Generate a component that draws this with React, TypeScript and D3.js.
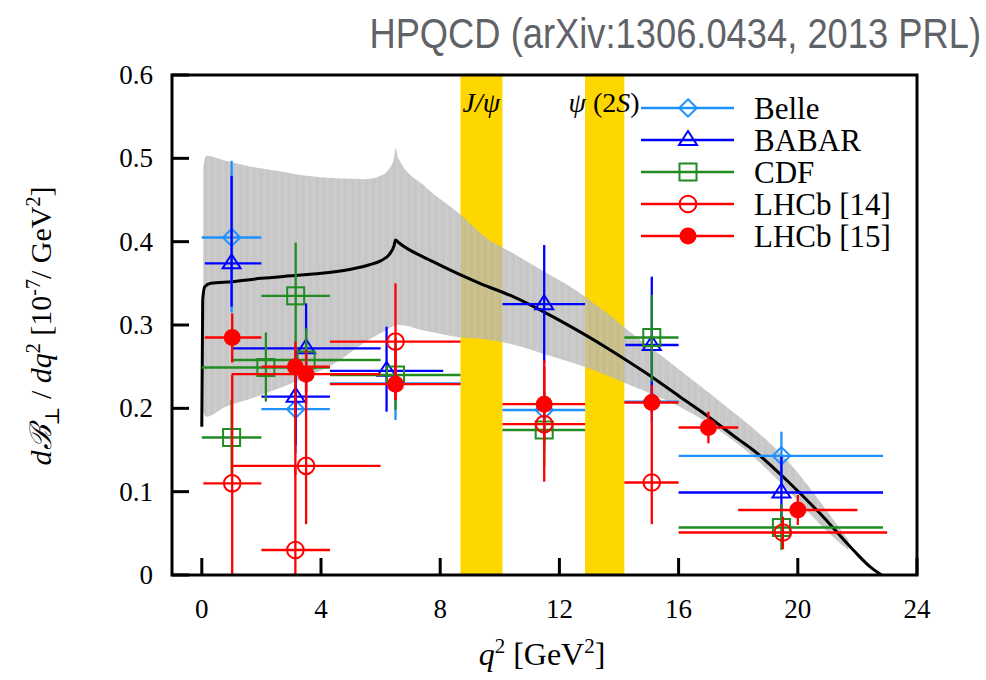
import React from 'react';
import * as d3 from 'd3';

// ---- data ----
// rows: [q2, value, q2 low, q2 high, value low, value high]
const belle = [
  [1.0, 0.405, 0, 2, 0.315, 0.497],
  [3.15, 0.199, 2, 4.3, 0.146, 0.255],
  [6.5, 0.23, 4.3, 8.68, 0.186, 0.275],
  [11.49, 0.198, 10.09, 12.86, 0.15, 0.25],
  [15.1, 0.208, 14.18, 16, 0.183, 0.235],
  [19.45, 0.143, 16, 22.86, 0.11, 0.172],
];
const babar = [
  [1.0, 0.374, 0.1, 2, 0.322, 0.479],
  [3.15, 0.214, 2, 4.3, 0.156, 0.27],
  [3.5, 0.272, 1, 6, 0.22, 0.326],
  [6.2, 0.245, 4.3, 8.1, 0.196, 0.298],
  [11.49, 0.325, 10.09, 12.86, 0.254, 0.396],
  [15.1, 0.276, 14.21, 16, 0.195, 0.358],
  [19.45, 0.099, 16, 22.86, 0.066, 0.142],
];
const cdf = [
  [1.0, 0.165, 0, 2, 0.12, 0.21],
  [3.15, 0.335, 2, 4.3, 0.27, 0.399],
  [2.15, 0.249, 0, 4.3, 0.208, 0.291],
  [3.5, 0.258, 1, 6, 0.22, 0.296],
  [6.5, 0.24, 4.3, 8.68, 0.198, 0.285],
  [11.49, 0.174, 10.09, 12.86, 0.13, 0.22],
  [15.1, 0.285, 14.18, 16, 0.232, 0.336],
  [19.45, 0.057, 16, 22.86, 0.03, 0.085],
];
const lhcb14 = [
  [1.02, 0.11, 0.05, 2, 0.0, 0.24],
  [3.14, 0.03, 2, 4.3, 0.0, 0.13],
  [3.5, 0.131, 1, 6, 0.061, 0.23],
  [6.5, 0.28, 4.3, 8.68, 0.21, 0.35],
  [11.49, 0.181, 10.09, 12.86, 0.112, 0.25],
  [15.1, 0.111, 14.18, 16, 0.061, 0.18],
  [19.5, 0.051, 16, 23, 0.031, 0.07],
];
const lhcb15 = [
  [1.02, 0.285, 0.1, 2, 0.255, 0.314],
  [3.14, 0.25, 2, 4.3, 0.12, 0.28],
  [3.5, 0.241, 1, 6, 0.205, 0.27],
  [6.5, 0.229, 4.3, 8.68, 0.21, 0.27],
  [11.49, 0.205, 10.09, 12.86, 0.16, 0.258],
  [15.1, 0.207, 14.18, 16, 0.18, 0.228],
  [17.0, 0.177, 16, 18, 0.158, 0.196],
  [20.0, 0.078, 18, 22, 0.06, 0.096],
];

// lattice prediction: central curve and error band
const curveQ2 = [0, 0.03, 0.1, 0.3, 1, 2, 3, 4, 5, 5.6, 6.0, 6.3, 6.45, 6.5, 6.6, 7.76, 9.33, 10.45, 11.57, 12.68, 13.8, 14.92, 16.04, 17.0, 18.0, 18.5, 19.62, 20.74, 21.86, 22.42, 22.81];
const curveVal = [0.178, 0.33, 0.346, 0.35, 0.352, 0.356, 0.359, 0.362, 0.367, 0.372, 0.377, 0.385, 0.395, 0.402, 0.399, 0.376, 0.35, 0.334, 0.314, 0.292, 0.268, 0.242, 0.214, 0.19, 0.163, 0.15, 0.114, 0.074, 0.03, 0.01, 0.0];
const bandQ2 = [0.05, 0.15, 0.8, 1.5, 2.5, 3.5, 4.5, 5.5, 6.0, 6.3, 6.45, 6.5, 6.6, 7.5, 8.7, 9.5, 10.5, 11.5, 12.5, 13.5, 14.5, 15.5, 16.5, 17.5, 18.5, 19.5, 20.5, 21.2, 21.7];
const bandHi = [0.49, 0.503, 0.497, 0.491, 0.485, 0.479, 0.476, 0.475, 0.479, 0.488, 0.5, 0.512, 0.5, 0.466, 0.432, 0.406, 0.385, 0.364, 0.343, 0.317, 0.288, 0.261, 0.233, 0.205, 0.176, 0.143, 0.1, 0.066, 0.042];
const bandLo = [0.195, 0.19, 0.202, 0.21, 0.223, 0.237, 0.255, 0.28, 0.29, 0.296, 0.299, 0.3, 0.3, 0.293, 0.285, 0.283, 0.276, 0.265, 0.254, 0.241, 0.226, 0.211, 0.193, 0.17, 0.142, 0.108, 0.07, 0.045, 0.03];

// charmonium veto windows
const vetoes = [[8.68, 10.09], [12.86, 14.18]];

const xTicks = [0, 4, 8, 12, 16, 20, 24];
const yTicks = [0, 0.1, 0.2, 0.3, 0.4, 0.5, 0.6];

const series = [
  { name: 'Belle', rows: belle, color: '#1e90ff', marker: 'diamond' },
  { name: 'BABAR', rows: babar, color: '#0000ff', marker: 'triangle' },
  { name: 'CDF', rows: cdf, color: '#228b22', marker: 'square' },
  { name: 'LHCb [14]', rows: lhcb14, color: '#ff0000', marker: 'circle' },
  { name: 'LHCb [15]', rows: lhcb15, color: '#ff0000', marker: 'dot' },
];

const serif = '"Liberation Serif", "DejaVu Serif", serif';

function Marker({ type, x, y, color }: { type: string; x: number; y: number; color: string }) {
  const sw = 2;
  if (type === 'diamond') {
    const s = 8.7;
    return <path d={`M${x},${y - s}L${x + s},${y}L${x},${y + s}L${x - s},${y}Z`} fill="none" stroke={color} strokeWidth={sw} />;
  }
  if (type === 'triangle') {
    return <path d={`M${x},${y - 9}L${x + 9},${y + 5}L${x - 9},${y + 5}Z`} fill="none" stroke={color} strokeWidth={sw} />;
  }
  if (type === 'square') {
    const s = 8.5;
    return <rect x={x - s} y={y - s} width={2 * s} height={2 * s} fill="none" stroke={color} strokeWidth={sw} />;
  }
  if (type === 'circle') {
    return <circle cx={x} cy={y} r={8.3} fill="none" stroke={color} strokeWidth={sw} />;
  }
  return <circle cx={x} cy={y} r={8.5} fill={color} />;
}

export default function App() {
  const x = d3.scaleLinear().domain([-1, 24]).range([172, 917]);
  const y = d3.scaleLinear().domain([0, 0.6]).range([575, 75]);

  const band = d3.area<number>()
    .x((d, i) => x(bandQ2[i]))
    .y0((d, i) => y(bandLo[i]))
    .y1((d, i) => y(bandHi[i]))
    .curve(d3.curveMonotoneX);
  const line = d3.line<number>()
    .x((d, i) => x(curveQ2[i]))
    .y((d, i) => y(curveVal[i]))
    .curve(d3.curveMonotoneX);

  const [x0, x1] = x.range();
  const [yb, yt] = y.range();

  return (
    <svg width={986} height={680} style={{ position: 'absolute', left: 0, top: 0 }}>
      <defs>
        <pattern id="stripes" width={7} height={10} patternUnits="userSpaceOnUse">
          <rect width={7} height={10} fill="#b8b8b8" />
          <rect x={2} width={1} height={10} fill="#b1b1b1" />
          <rect x={5} width={1} height={10} fill="#bfbfbf" />
        </pattern>
      </defs>
      <rect width={986} height={680} fill="#fff" />
      <g transform="translate(981,48) scale(0.865,1)">
        <text x={0} y={0} textAnchor="end" fontFamily='"Liberation Sans", Arial, sans-serif' fontSize={42} fill="#5f6368">
          HPQCD (arXiv:1306.0434, 2013 PRL)
        </text>
      </g>

      {vetoes.map((v, i) => (
        <rect key={i} x={x(v[0])} y={yt} width={x(v[1]) - x(v[0])} height={yb - yt} fill="#ffd700" />
      ))}
      <path d={band(bandQ2) || ''} fill="url(#stripes)" fillOpacity={0.76} />
      <path d={line(curveQ2) || ''} fill="none" stroke="#000" strokeWidth={3} />

      <text x={x(9.38)} y={112} textAnchor="middle" fontFamily={serif} fontSize={28} fontStyle="italic">J/ψ</text>
      <text x={x(13.5)} y={112} textAnchor="middle" fontFamily={serif} fontSize={28}>
        <tspan fontStyle="italic">ψ</tspan> (2<tspan fontStyle="italic">S</tspan>)
      </text>

      {series.map((s) => (
        <g key={s.name}>
          {s.rows.map((r, i) => (
            <g key={i}>
              <line x1={x(r[2])} x2={x(r[3])} y1={y(r[1])} y2={y(r[1])} stroke={s.color} strokeWidth={2.3} />
              <line x1={x(r[0])} x2={x(r[0])} y1={y(r[4])} y2={y(r[5])} stroke={s.color} strokeWidth={2.3} />
              <Marker type={s.marker} x={x(r[0])} y={y(r[1])} color={s.color} />
            </g>
          ))}
        </g>
      ))}

      {/* legend */}
      {series.map((s, i) => {
        const ly = 108 + i * 32;
        return (
          <g key={s.name}>
            <line x1={641} x2={734} y1={ly} y2={ly} stroke={s.color} strokeWidth={2.3} />
            <Marker type={s.marker} x={688} y={ly} color={s.color} />
            <text x={754} y={ly + 11} fontFamily={serif} fontSize={31}>{s.name}</text>
          </g>
        );
      })}

      {/* frame and ticks */}
      <rect x={x0} y={yt} width={x1 - x0} height={yb - yt} fill="none" stroke="#000" strokeWidth={3} />
      {xTicks.map((t) => (
        <g key={t}>
          <line x1={x(t)} x2={x(t)} y1={yb} y2={yb - 17} stroke="#000" strokeWidth={3} />
          <text x={x(t)} y={618} textAnchor="middle" fontFamily={serif} fontSize={27}>{t}</text>
        </g>
      ))}
      {yTicks.map((t) => (
        <g key={t}>
          <line x1={x0} x2={x0 + 17} y1={y(t)} y2={y(t)} stroke="#000" strokeWidth={3} />
          <text x={153} y={y(t) + 9} textAnchor="end" fontFamily={serif} fontSize={27}>{t === 0 ? '0' : t.toFixed(1)}</text>
        </g>
      ))}

      <text x={542} y={665} textAnchor="middle" fontFamily={serif} fontSize={32}>
        <tspan fontStyle="italic">q</tspan>
        <tspan dy={-12} fontSize={21}>2</tspan>
        <tspan dy={12}> [GeV</tspan>
        <tspan dy={-12} fontSize={21}>2</tspan>
        <tspan dy={12}>]</tspan>
      </text>

      <text transform="translate(51,326) rotate(-90)" textAnchor="middle" fontFamily={serif} fontSize={30}>
        <tspan fontStyle="italic">dℬ</tspan>
        <tspan dy={8} fontSize={20}>⊥</tspan>
        <tspan dy={-8}> / </tspan>
        <tspan fontStyle="italic">dq</tspan>
        <tspan dy={-11} fontSize={20}>2</tspan>
        <tspan dy={11}> [10</tspan>
        <tspan dy={-11} fontSize={20}>-7</tspan>
        <tspan dy={11}>/ GeV</tspan>
        <tspan dy={-11} fontSize={20}>2</tspan>
        <tspan dy={11}>]</tspan>
      </text>
    </svg>
  );
}
